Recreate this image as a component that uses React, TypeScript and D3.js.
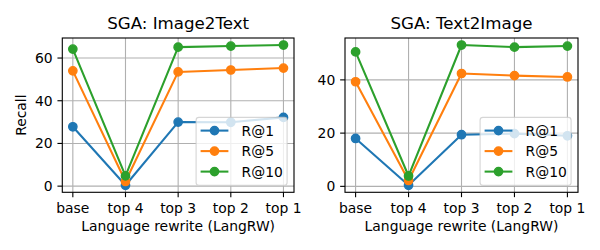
import React from "react";
import * as d3 from "d3";

const categories = ["base", "top 4", "top 3", "top 2", "top 1"];
const seriesNames = ["R@1", "R@5", "R@10"];
const colors = ["#1f77b4", "#ff7f0e", "#2ca02c"];

const i2tR1 = [27.8, 0.4, 30.0, 29.9, 32.2];
const i2tR5 = [54.0, 2.2, 53.5, 54.4, 55.3];
const i2tR10 = [64.2, 4.8, 65.1, 65.6, 66.1];

const t2iR1 = [18.0, 0.4, 19.4, 19.8, 19.0];
const t2iR5 = [39.3, 2.2, 42.4, 41.6, 41.1];
const t2iR10 = [50.5, 3.9, 53.1, 52.3, 52.7];

const i2tTicks = [0, 20, 40, 60];
const t2iTicks = [0, 20, 40];

const FONT = "DejaVu Sans, sans-serif";
const FS = 13.9;

type PanelProps = {
  title: string;
  series: number[][];
  yTicks: number[];
  left: number;
  right: number;
  top: number;
  bottom: number;
  yLabel?: string;
};

function Panel({ title, series, yTicks, left, right, top, bottom, yLabel }: PanelProps) {
  const x = d3.scaleLinear().domain([-0.2, categories.length - 1 + 0.2]).range([left, right]);
  const all = series.flat();
  const [mn, mx] = d3.extent(all) as [number, number];
  const pad = (mx - mn) * 0.05;
  const y = d3.scaleLinear().domain([mn - pad, mx + pad]).range([bottom, top]);
  const line = d3
    .line<number>()
    .x((_, i) => x(i))
    .y((d) => y(d));
  const tick = 4.86;
  const cx = (left + right) / 2;

  const bw = 91;
  const bh = 68;
  const bRight = right - 6.9;
  const bBottom = bottom - 6.9;
  const bLeft = bRight - bw;
  const bTop = bBottom - bh;
  const rows = [13.2, 33.7, 54.2];

  return (
    <g>
      {categories.map((_, i) => (
        <line key={"gx" + i} x1={x(i)} x2={x(i)} y1={top} y2={bottom} stroke="#b0b0b0" strokeWidth={1.11} />
      ))}
      {yTicks.map((t) => (
        <line key={"gy" + t} x1={left} x2={right} y1={y(t)} y2={y(t)} stroke="#b0b0b0" strokeWidth={1.11} />
      ))}
      {series.map((s, si) => (
        <g key={"s" + si}>
          <path d={line(s) || ""} fill="none" stroke={colors[si]} strokeWidth={2.08} strokeLinejoin="round" />
          {s.map((v, i) => (
            <circle key={i} cx={x(i)} cy={y(v)} r={4.17} fill={colors[si]} stroke={colors[si]} strokeWidth={1.39} />
          ))}
        </g>
      ))}
      <rect x={left} y={top} width={right - left} height={bottom - top} fill="none" stroke="#000" strokeWidth={1.11} />
      {categories.map((c, i) => (
        <g key={"xt" + i}>
          <line x1={x(i)} x2={x(i)} y1={bottom} y2={bottom + tick} stroke="#000" strokeWidth={1.11} />
          <text x={x(i)} y={212.5} textAnchor="middle" fontFamily={FONT} fontSize={FS} fill="#000">
            {c}
          </text>
        </g>
      ))}
      {yTicks.map((t) => (
        <g key={"yt" + t}>
          <line x1={left - tick} x2={left} y1={y(t)} y2={y(t)} stroke="#000" strokeWidth={1.11} />
          <text x={left - tick - 4.86} y={y(t) + 5} textAnchor="end" fontFamily={FONT} fontSize={FS} fill="#000">
            {t}
          </text>
        </g>
      ))}
      <text x={cx} y={29} textAnchor="middle" fontFamily={FONT} fontSize={16.67} fill="#000">
        {title}
      </text>
      <text x={cx} y={231} textAnchor="middle" fontFamily={FONT} fontSize={FS} fill="#000">
        Language rewrite (LangRW)
      </text>
      {yLabel && (
        <text
          transform={`translate(${26},${(top + bottom) / 2}) rotate(-90)`}
          textAnchor="middle"
          fontFamily={FONT}
          fontSize={FS}
          fill="#000"
        >
          {yLabel}
        </text>
      )}
      <rect
        x={bLeft}
        y={bTop}
        width={bw}
        height={bh}
        rx={2.8}
        ry={2.8}
        fill="#fff"
        fillOpacity={0.8}
        stroke="#cccccc"
        strokeOpacity={0.8}
        strokeWidth={1.11}
      />
      {seriesNames.map((n, si) => {
        const ry = bTop + rows[si];
        return (
          <g key={"lg" + si}>
            <line x1={bLeft + 4.5} x2={bLeft + 32.3} y1={ry} y2={ry} stroke={colors[si]} strokeWidth={2.08} />
            <circle cx={bLeft + 18.4} cy={ry} r={4.17} fill={colors[si]} stroke={colors[si]} strokeWidth={1.39} />
            <text x={bLeft + 45.5} y={ry + 5} fontFamily={FONT} fontSize={FS} fill="#000">
              {n}
            </text>
          </g>
        );
      })}
    </g>
  );
}

export default function App() {
  return (
    <svg
      width={600}
      height={250}
      viewBox="0 0 600 250"
      style={{ position: "absolute", left: 0, top: 0, background: "#fff" }}
    >
      <rect x={0} y={0} width={600} height={250} fill="#fff" />
      <Panel
        title="SGA: Image2Text"
        series={[i2tR1, i2tR5, i2tR10]}
        yTicks={i2tTicks}
        left={62.3}
        right={294}
        top={38}
        bottom={192.3}
        yLabel="Recall"
      />
      <Panel
        title="SGA: Text2Image"
        series={[t2iR1, t2iR5, t2iR10]}
        yTicks={t2iTicks}
        left={345}
        right={578}
        top={38}
        bottom={192.3}
      />
    </svg>
  );
}
